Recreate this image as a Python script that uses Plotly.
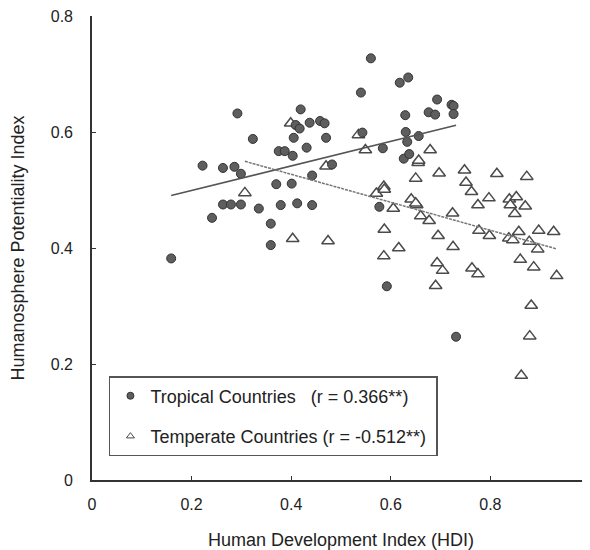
import numpy as np
import plotly.graph_objects as go

tropical_hdi = [0.159, 0.222, 0.241, 0.263, 0.263, 0.279, 0.286, 0.292, 0.299, 0.299,
                0.323, 0.335, 0.359, 0.359, 0.370, 0.375, 0.387, 0.379, 0.403, 0.401,
                0.405, 0.409, 0.412, 0.417, 0.419, 0.431, 0.437, 0.442, 0.442, 0.458,
                0.467, 0.470, 0.482, 0.540, 0.543, 0.560, 0.584, 0.577, 0.592, 0.618,
                0.635, 0.629, 0.630, 0.633, 0.626, 0.637, 0.656, 0.676, 0.689, 0.693,
                0.722, 0.726, 0.726, 0.731]
tropical_hpi = [0.382, 0.542, 0.452, 0.538, 0.475, 0.475, 0.540, 0.632, 0.528, 0.475,
                0.588, 0.468, 0.442, 0.405, 0.510, 0.567, 0.567, 0.474, 0.559, 0.511,
                0.590, 0.612, 0.477, 0.606, 0.639, 0.573, 0.616, 0.525, 0.474, 0.619,
                0.615, 0.590, 0.544, 0.668, 0.599, 0.727, 0.572, 0.471, 0.334, 0.685,
                0.694, 0.629, 0.600, 0.583, 0.554, 0.562, 0.593, 0.634, 0.630, 0.656,
                0.647, 0.645, 0.631, 0.247]

temperate_hdi = [0.307, 0.399, 0.403, 0.470, 0.474, 0.535, 0.549, 0.571, 0.586, 0.587,
                 0.587, 0.586, 0.605, 0.616, 0.641, 0.650, 0.652, 0.650, 0.655, 0.656,
                 0.660, 0.677, 0.679, 0.697, 0.695, 0.693, 0.690, 0.704, 0.724, 0.725,
                 0.748, 0.751, 0.762, 0.763, 0.775, 0.777, 0.775, 0.797, 0.798, 0.813,
                 0.838, 0.840, 0.837, 0.845, 0.849, 0.852, 0.857, 0.860, 0.862, 0.870,
                 0.873, 0.878, 0.879, 0.882, 0.887, 0.895, 0.897, 0.927, 0.933]
temperate_hpi = [0.495, 0.615, 0.416, 0.541, 0.412, 0.595, 0.569, 0.494, 0.506, 0.501,
                 0.432, 0.386, 0.468, 0.400, 0.484, 0.520, 0.474, 0.477, 0.547, 0.551,
                 0.455, 0.447, 0.569, 0.529, 0.421, 0.374, 0.335, 0.361, 0.460, 0.402,
                 0.534, 0.513, 0.497, 0.365, 0.474, 0.430, 0.355, 0.486, 0.421, 0.528,
                 0.484, 0.474, 0.417, 0.414, 0.459, 0.488, 0.428, 0.380, 0.180, 0.472,
                 0.523, 0.411, 0.248, 0.301, 0.367, 0.398, 0.430, 0.428, 0.352]

# linear trendline coefficients (slope, intercept)
tropical_trend = [0.212, 0.4567]
temperate_trend = [-0.2413, 0.6236]

legend_names = ["Tropical Countries\u00a0\u00a0\u00a0(r = 0.366**)",
                "Temperate Countries (r = -0.512**)\u00a0"]
x_ticks = [0, 0.2, 0.4, 0.6, 0.8, 1]
x_tick_text = ["0", "0.2", "0.4", "0.6", "0.8", "1"]
y_ticks = [0, 0.2, 0.4, 0.6, 0.8]
y_tick_text = ["0", "0.2", "0.4", "0.6", "0.8"]

FONT = "Liberation Sans, Arial, sans-serif"
TXT = "#222222"


def trend(xs, coef):
    m, b = coef
    x0, x1 = min(xs), max(xs)
    return [x0, x1], [m * x0 + b, m * x1 + b]


fig = go.Figure()

fig.add_trace(go.Scatter(
    x=temperate_hdi, y=temperate_hpi, mode="markers", showlegend=False,
    marker=dict(symbol="triangle-up", size=11, color="white",
                line=dict(color="#4a4a4a", width=1.5)),
))
fig.add_trace(go.Scatter(
    x=tropical_hdi, y=tropical_hpi, mode="markers", showlegend=False,
    marker=dict(symbol="circle", size=9, color="#5e5e5e",
                line=dict(color="#333333", width=1)),
))

tx, ty = trend(tropical_hdi, tropical_trend)
fig.add_trace(go.Scatter(x=tx, y=ty, mode="lines", showlegend=False,
                         line=dict(color="#555555", width=1.6)))
mx, my = trend(temperate_hdi, temperate_trend)
fig.add_trace(go.Scatter(x=mx, y=my, mode="lines", showlegend=False,
                         line=dict(color="#777777", width=1.5, dash="3px,1px")))

# legend entries
fig.add_trace(go.Scatter(
    x=[None], y=[None], mode="markers", name=legend_names[0], legendgroup="a",
    marker=dict(symbol="circle", size=7, color="#5e5e5e",
                line=dict(color="#333333", width=1)),
))
fig.add_trace(go.Scatter(
    x=[None], y=[None], mode="markers", name=legend_names[1], legendgroup="b",
    marker=dict(symbol="triangle-up", size=7, color="white",
                line=dict(color="#4a4a4a", width=1)),
))

fig.update_layout(
    template="none",
    width=582, height=542,
    margin=dict(l=84, r=0, t=8, b=70, pad=0),
    paper_bgcolor="white", plot_bgcolor="white",
    font=dict(family=FONT, size=16, color=TXT),
    showlegend=True,
    legend=dict(
        x=0.034, y=0.224, xanchor="left", yanchor="top",
        bordercolor="#555555", borderwidth=1.5, bgcolor="white",
        font=dict(family=FONT, size=18, color=TXT),
        tracegroupgap=14, traceorder="grouped",
    ),
    xaxis=dict(
        range=[0, 1], tickvals=x_ticks, ticktext=x_tick_text,
        showgrid=False, zeroline=False, showline=True, linecolor="#333333",
        linewidth=1.6, ticks="inside", ticklen=4, tickcolor="#333333",
        tickwidth=1.4, automargin=False, ticklabelstandoff=9,
        ticklabeloverflow="allow",
        tickfont=dict(family=FONT, size=16, color=TXT),
        title=dict(text="Human Development Index (HDI)", standoff=21,
                   font=dict(family=FONT, size=18, color=TXT)),
    ),
    yaxis=dict(
        range=[0, 0.8], tickvals=y_ticks, ticktext=y_tick_text,
        showgrid=False, zeroline=False, showline=True, linecolor="#333333",
        linewidth=1.6, ticks="inside", ticklen=4, tickcolor="#333333",
        tickwidth=1.4, automargin=False, ticklabelstandoff=14,
        ticklabeloverflow="allow",
        tickfont=dict(family=FONT, size=16, color=TXT),
        title=dict(text="Humanosphere Potentiality Index", standoff=22,
                   font=dict(family=FONT, size=18, color=TXT)),
    ),
)

fig.write_html("out.html")
